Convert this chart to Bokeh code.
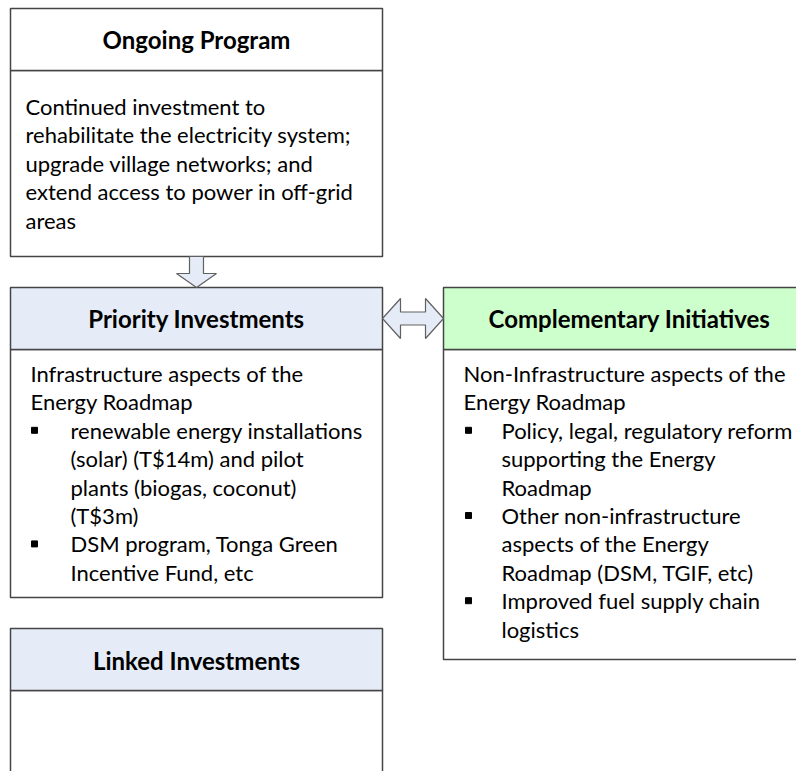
from bokeh.plotting import figure
from bokeh.models import Range1d
from bokeh.core.properties import value
from bokeh.embed import file_html
from bokeh.resources import INLINE

# ---------------- content (data) ----------------
headers = ["Ongoing Program", "Priority Investments", "Complementary Initiatives", "Linked Investments"]

ongoing_lines = ["Continued investment to",
                 "rehabilitate the electricity system;",
                 "upgrade village networks; and",
                 "extend access to power in off-grid",
                 "areas"]

priority_intro = ["Infrastructure aspects of the", "Energy Roadmap"]
priority_bullets = [["renewable energy installations", "(solar) (T$14m) and pilot",
                     "plants (biogas, coconut)", "(T$3m)"],
                    ["DSM program, Tonga Green", "Incentive Fund, etc"]]

complementary_intro = ["Non-Infrastructure aspects of the", "Energy Roadmap"]
complementary_bullets = [["Policy, legal, regulatory reform", "supporting the Energy", "Roadmap"],
                         ["Other non-infrastructure", "aspects of the Energy", "Roadmap (DSM, TGIF, etc)"],
                         ["Improved fuel supply chain", "logistics"]]

# ---------------- layout ----------------
BORDER = "#454545"
BLUE = "#E5ECF7"
GREEN = "#CCFFCC"
FONT = "Lato"
BODY_SIZE = "22px"
HEAD_SIZE = "24px"
LINE_H = 28.4

# boxes: left, right, top, bottom, divider, header fill, header y
boxes = [
    dict(l=10, r=382, t=8, b=256, d=70, fill="white", hy=39),
    dict(l=10, r=382, t=287, b=597, d=349, fill=BLUE, hy=318),
    dict(l=443, r=815, t=287, b=659, d=349, fill=GREEN, hy=318),
    dict(l=10, r=382, t=628, b=800, d=690, fill=BLUE, hy=660),
]

p = figure(width=796, height=771, output_backend="svg", toolbar_location=None,
           x_range=Range1d(0, 796), y_range=Range1d(771, 0),
           min_border=0, outline_line_color=None, background_fill_color="white",
           border_fill_color="white")
p.axis.visible = False
p.grid.visible = False

for bx, title in zip(boxes, headers):
    p.quad(left=[bx["l"]], right=[bx["r"]], top=[bx["d"]], bottom=[bx["b"]],
           fill_color="white", line_color=BORDER, line_width=1.5)
    p.quad(left=[bx["l"]], right=[bx["r"]], top=[bx["t"]], bottom=[bx["d"]],
           fill_color=bx["fill"], line_color=BORDER, line_width=1.5)
    p.text(x=[(bx["l"] + bx["r"]) / 2], y=[bx["hy"]], text=[title],
           text_font=value(FONT), text_font_style="bold", text_font_size=HEAD_SIZE,
           text_align="center", text_baseline="middle", text_color="black")


def body(x0, y0, intro, bullets, bx_x, bt_x):
    xs, ys, ts = [], [], []
    sx, sy = [], []
    y = y0
    for line in intro:
        xs.append(x0); ys.append(y); ts.append(line); y += LINE_H
    for group in bullets:
        sx.append(bx_x); sy.append(y)
        for line in group:
            xs.append(bt_x); ys.append(y); ts.append(line); y += LINE_H
    p.text(x=xs, y=ys, text=ts, text_font=value(FONT), text_font_size=BODY_SIZE,
           text_align="left", text_baseline="middle", text_color="black")
    if sx:
        p.scatter(x=sx, y=sy, marker="square", size=6, fill_color="black", line_color="black")


body(25, 106, ongoing_lines, [], 0, 0)
body(30, 373, priority_intro, priority_bullets, 34, 70)
body(463, 373, complementary_intro, complementary_bullets, 468, 501)

# down arrow (Ongoing -> Priority)
cx = 196
p.patch(x=[cx - 7, cx + 7, cx + 7, cx + 20, cx, cx - 20, cx - 7],
        y=[256, 256, 273, 273, 287, 273, 273],
        fill_color=BLUE, line_color="#606060", line_width=1.2)

# double arrow (Priority <-> Complementary)
cy = 318
p.patch(x=[382, 400, 400, 425, 425, 443, 425, 425, 400, 400],
        y=[cy, cy - 20, cy - 6.5, cy - 6.5, cy - 20, cy, cy + 20, cy + 6.5, cy + 6.5, cy + 20],
        fill_color=BLUE, line_color="#606060", line_width=1.2)

open("out.html", "w").write(file_html(p, INLINE))
